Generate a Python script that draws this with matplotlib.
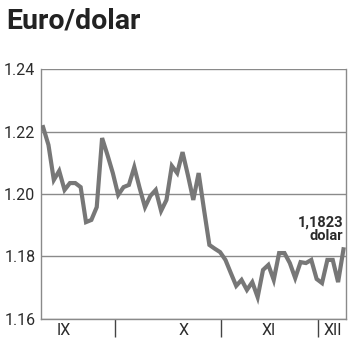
import matplotlib
matplotlib.use('Agg')
import matplotlib.pyplot as plt
import matplotlib.transforms as mtransforms

# Data: EUR/USD daily close
rates = [1.2214, 1.2157, 1.2045, 1.2074, 1.2013, 1.2035, 1.2035, 1.2022, 1.1910, 1.1917,
         1.1958, 1.2179, 1.2125, 1.2067, 1.1997, 1.2022, 1.2029, 1.2086, 1.2019, 1.1958,
         1.1994, 1.2013, 1.1946, 1.1981, 1.2090, 1.2067, 1.2134, 1.2060, 1.1981, 1.2067,
         1.1950, 1.1837, 1.1825, 1.1814, 1.1789, 1.1747, 1.1706, 1.1725, 1.1693, 1.1718,
         1.1670, 1.1757, 1.1773, 1.1725, 1.1811, 1.1811, 1.1779, 1.1731, 1.1782, 1.1779,
         1.1789, 1.1728, 1.1715, 1.1789, 1.1789, 1.1718, 1.1823]
month_labels = ['IX', 'X', 'XI', 'XII']
month_label_pos = [3.9, 26.1, 42.0, 54.1]
month_starts = [13.4, 33.2, 51.3]
yticks = [1.16, 1.18, 1.20, 1.22, 1.24]
last_label = '1,1823\ndolar'

GRID = '#8a8a8a'
LINE = '#777777'
TEXT = '#2b2b2b'

fig = plt.figure(figsize=(3.5, 3.51), dpi=100)
ax = fig.add_axes([0.117, 0.0912, 0.872, 0.7122])

ax.plot(range(len(rates)), rates, color=LINE, linewidth=3.0, solid_joinstyle='miter', zorder=3)

ax.set_xlim(-0.4, 56.5)
ax.set_ylim(1.16, 1.24)
ax.set_yticks(yticks)
ax.set_yticklabels([f'{v:.2f}' for v in yticks], fontsize=11.5, color=TEXT, family='Roboto')
ax.tick_params(axis='y', length=0, pad=4)
ax.set_xticks([])
for v in yticks:
    ax.axhline(v, color=GRID, linewidth=1, zorder=1)

for side in ['left', 'right', 'bottom']:
    ax.spines[side].set_color(GRID)
    ax.spines[side].set_linewidth(1)
ax.spines['top'].set_visible(False)

trans = mtransforms.blended_transform_factory(ax.transData, ax.transAxes)
ax.vlines(month_starts, -0.072, 0, transform=trans, color='#444444', linewidth=1, clip_on=False)
for lab, pos in zip(month_labels, month_label_pos):
    ax.text(pos, -0.045, lab, transform=trans, ha='center', va='center',
            fontsize=11.5, color=TEXT, family='Roboto')

ax.text(len(rates) - 1, 1.1842, last_label, ha='right', va='bottom', fontsize=10.5,
        fontweight='bold', color=TEXT, family='Roboto', linespacing=1.0)

fig.text(0.017, 0.978, 'Euro/dolar', ha='left', va='top', fontsize=20.5,
         fontweight='bold', color='#222222', family='Roboto')

fig.savefig('out.png', dpi=100)
